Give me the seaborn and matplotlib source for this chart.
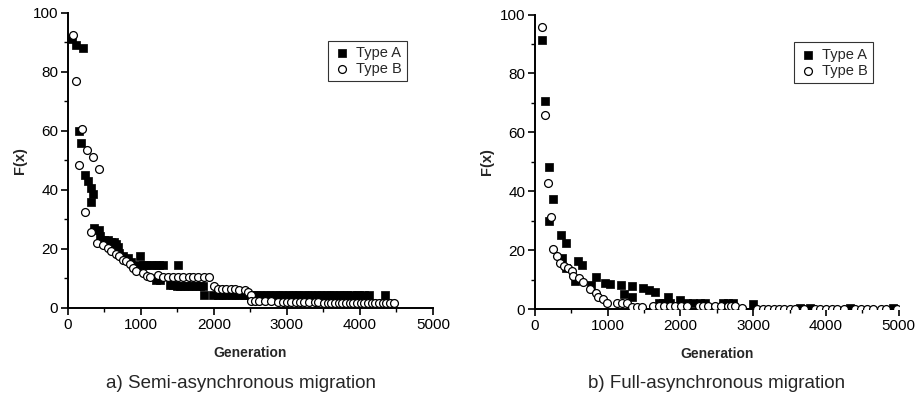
import matplotlib
matplotlib.use("Agg")
import matplotlib.pyplot as plt
import seaborn as sns
from matplotlib.ticker import MultipleLocator

# a) Semi-asynchronous migration
semi_a_gen = [60, 110, 200, 155, 180, 233, 270, 315, 338, 315, 360, 430, 443, 500, 544, 590,
              634, 658, 680, 703, 750, 818, 863, 986, 975, 1030, 1080, 1140, 1200, 1250, 1305,
              1502, 1205, 1260, 1393, 1440, 1490, 1540, 1590, 1640, 1700, 1750, 1804, 1845,
              1868, 1990, 2050, 2110, 2170, 2230, 2290, 2350, 2410, 2470, 2530, 2590, 2650,
              2710, 2770, 2830, 2890, 2950, 3010, 3070, 3120, 3170, 3230, 3290, 3350, 3410,
              3470, 3530, 3590, 3650, 3710, 3770, 3830, 3880, 3960, 3990, 4060, 4120, 4350]
semi_a_f = [91, 89, 88, 60, 56, 45, 43, 40.5, 38.5, 36, 27, 26.5, 24.5, 23, 23, 22.5,
            22.5, 21.5, 20.5, 18.7, 17.5, 17, 15.5, 17.5, 14.4, 14.4, 14.4, 14.4, 14.4, 14.4, 14.4,
            14.4, 9.6, 9.6, 7.6, 7.6, 7.3, 7.3, 7.3, 7.3, 7.3, 7.3, 7.3, 7.3,
            4.4, 4.4, 4.4, 4.4, 4.4, 4.4, 4.4, 4.4, 4.4, 4.4, 4.4, 4.4, 4.4,
            4.4, 4.4, 4.4, 4.4, 4.4, 4.4, 4.4, 4.4, 4.4, 4.4, 4.4, 4.4, 4.4,
            4.4, 4.4, 4.4, 4.4, 4.4, 4.4, 4.4, 4.4, 4.4, 4.4, 4.4, 4.4, 4.4]

semi_b_gen = [65, 110, 155, 188, 260, 347, 430, 233, 315, 397, 475, 544, 589, 658, 703, 749,
              800, 850, 886, 932, 1023, 1082, 1130, 1228, 1300, 1366, 1434, 1502, 1571, 1662,
              1708, 1776, 1868, 1936, 2004, 2050, 2110, 2170, 2230, 2290, 2350, 2420, 2470,
              2510, 2507, 2560, 2620, 2700, 2780, 2880, 2940, 3000, 3060, 3130, 3180, 3240,
              3300, 3380, 3430, 3510, 3560, 3610, 3660, 3710, 3760, 3810, 3860, 3910, 3960,
              4010, 4060, 4110, 4160, 4210, 4260, 4310, 4360, 4410, 4470]
semi_b_f = [92.5, 77, 48.5, 60.5, 53.5, 51.3, 47, 32.5, 25.7, 22, 21.2, 20.4, 19.2, 18.1, 17.7, 16.4,
            16, 15, 13.5, 12.4, 11.8, 10.9, 10.5, 11.3, 10.6, 10.5, 10.5, 10.5, 10.5, 10.5,
            10.5, 10.5, 10.5, 10.5, 7.3, 6.4, 6.4, 6.4, 6.4, 6.4, 6, 6, 5.5,
            4.5, 2.5, 2.2, 2.2, 2.2, 2.2, 2, 2, 2, 2, 2, 2, 2,
            2, 2, 2, 1.8, 1.8, 1.8, 1.8, 1.8, 1.8, 1.8, 1.8, 1.8, 1.8,
            1.8, 1.8, 1.8, 1.8, 1.8, 1.8, 1.8, 1.8, 1.8, 1.8]

# b) Full-asynchronous migration
full_a_gen = [92, 137, 192, 243, 192, 357, 421, 367, 421, 549, 586, 650, 769, 834, 962, 1030,
              1177, 1222, 1328, 1337, 1488, 1566, 1648, 1823, 1990, 1700, 1760, 1850, 2085,
              2170, 2270, 2335, 2580, 2650, 2720, 3000, 3640, 3780, 4330, 4920]
full_a_f = [91.3, 70.7, 48.2, 37.3, 30, 25.2, 22.6, 17.2, 13.8, 9.5, 16.3, 15, 8.2, 11, 8.9, 8.4,
            8.2, 5.1, 7.9, 4, 7, 6.5, 5.9, 4.2, 3.1, 2, 2, 2, 2,
            2, 2, 2, 2.2, 2.2, 2.2, 1.6, 0.4, 0.4, 0.4, 0.4]

full_b_gen = [100, 137, 174, 220, 252, 298, 343, 398, 450, 504, 526, 604, 664, 755, 834, 870,
              938, 985, 1122, 1191, 1260, 1328, 1397, 1466, 1625, 1700, 1780, 1855, 1930, 2010,
              2090, 2250, 2315, 2385, 2475, 2560, 2650, 2700, 2750, 2850, 3050, 3130, 3200, 3280,
              3350, 3420, 3500, 3570, 3700, 3850, 3920, 4000, 4080, 4150, 4250, 4400, 4480,
              4560, 4650, 4750, 4830, 4970]
full_b_f = [95.9, 66, 42.8, 31.1, 20.3, 18.1, 15.5, 14.6, 14, 12.8, 11.3, 10.4, 9.1, 6.7, 5.3, 4.2,
            3.3, 2.2, 2, 2, 2, 0.8, 0.8, 0.8, 1, 1, 1, 1, 1, 1,
            1, 1, 1, 1, 1, 0.9, 0.9, 0.9, 1, 0.5, 0.2, 0.2, 0.2, 0.2,
            0.2, 0.2, 0.2, 0.2, 0.2, 0.2, 0.2, 0.2, 0.2, 0.2, 0.2, 0.2, 0.2,
            0.2, 0.2, 0.2, 0.2, 0.2]

captions = ["a) Semi-asynchronous migration", "b) Full-asynchronous migration"]

sns.set_style("ticks")
plt.rcParams['font.family'] = ['Liberation Sans', 'DejaVu Sans']

fig = plt.figure(figsize=(9.19, 4.03), dpi=100)
ax1 = fig.add_axes([0.074, 0.236, 0.397, 0.732])
ax2 = fig.add_axes([0.582, 0.233, 0.396, 0.731])

panels = [(ax1, semi_a_gen, semi_a_f, semi_b_gen, semi_b_f),
          (ax2, full_a_gen, full_a_f, full_b_gen, full_b_f)]

for ax, ag, af, bg, bf in panels:
    sns.scatterplot(x=ag, y=af, ax=ax, marker="s", color="black", edgecolor="black",
                    s=28, linewidth=0.5, label="Type A", zorder=3)
    sns.scatterplot(x=bg, y=bf, ax=ax, marker="o", facecolor="white", edgecolor="black",
                    s=32, linewidth=0.9, label="Type B", zorder=4)
    ax.set_xlim(0, 5000)
    ax.set_ylim(0, 100)
    ax.xaxis.set_major_locator(MultipleLocator(1000))
    ax.xaxis.set_minor_locator(MultipleLocator(500))
    ax.yaxis.set_major_locator(MultipleLocator(20))
    ax.yaxis.set_minor_locator(MultipleLocator(10))
    ax.tick_params(which="major", direction="out", length=5, width=1.2, labelsize=11,
                   colors="black", pad=2)
    ax.tick_params(which="minor", direction="out", length=3, width=1.0, colors="black")
    for side in ["left", "bottom"]:
        ax.spines[side].set_linewidth(1.4)
        ax.spines[side].set_color("black")
    sns.despine(ax=ax)
    ax.set_xlabel("Generation", fontsize=10, fontweight="bold", labelpad=10)
    ax.set_ylabel("F(x)", fontsize=10.5, fontweight="bold", labelpad=4)
    leg = ax.legend(loc="upper right", bbox_to_anchor=(0.95, 0.93), fontsize=10.5,
                    frameon=True, fancybox=False, edgecolor="black", borderpad=0.35,
                    handletextpad=0.4, labelspacing=0.15, handlelength=1.2)
    leg.get_frame().set_linewidth(0.8)

fig.text(0.262, 0.048, captions[0], ha="center", va="center", fontsize=13.5)
fig.text(0.78, 0.048, captions[1], ha="center", va="center", fontsize=13.5)

plt.savefig("out.png", dpi=100)
